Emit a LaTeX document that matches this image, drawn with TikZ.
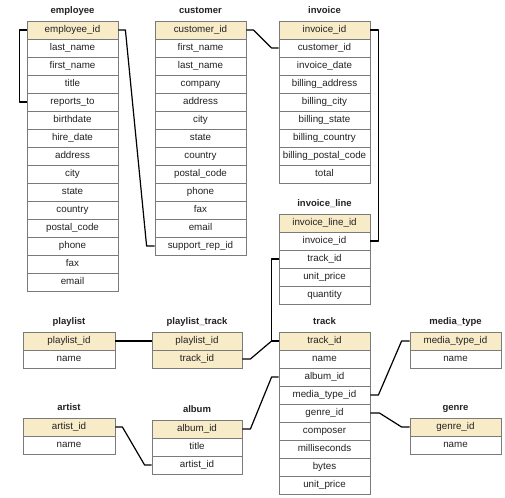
\documentclass[tikz,border=0pt]{standalone}
\usepackage{fontspec}
\setmainfont{Liberation Sans}
\usetikzlibrary{calc}
\definecolor{keyfill}{HTML}{F8EBC8}
\definecolor{bordergrey}{HTML}{7A7A7A}
\definecolor{fieldtext}{HTML}{222222}
\tikzset{
  fieldbox/.style={draw=bordergrey, line width=0.8pt, minimum height=18pt, inner sep=0pt,
    text height=7.2pt, text depth=2.2pt,
    font=\fontsize{9.8}{11}\selectfont, text=fieldtext},
  tabletitle/.style={font=\bfseries\fontsize{9.5}{11}\selectfont, inner sep=0pt, text=fieldtext,
    text height=7.2pt, text depth=2.2pt},
  link/.style={black, line width=1.2pt, line join=round},
}
% name, xleft, ytop, width, nkeys, title, fields
\newcommand\mktable[7]{%
  \node[tabletitle] (#1-t) at (#2+#4/2, #3-10) {#6};
  \foreach \f [count=\i] in {#7} {
    \ifnum\i>#5 \def\fc{white}\else\def\fc{keyfill}\fi
    \node[fieldbox, minimum width=#4pt, fill=\fc] (#1-\i) at (#2+#4/2, #3+18*\i-9) {\f};
  }
}
\begin{document}
\begin{tikzpicture}[x=1pt,y=-1pt]
\useasboundingbox (0,0) rectangle (505,497);
\mktable{emp}{27}{21}{91}{1}{employee}{employee\_id,last\_name,first\_name,title,reports\_to,birthdate,hire\_date,address,city,state,country,postal\_code,phone,fax,email}
\mktable{cus}{155}{21}{91}{1}{customer}{customer\_id,first\_name,last\_name,company,address,city,state,country,postal\_code,phone,fax,email,support\_rep\_id}
\mktable{inv}{279}{21}{91}{1}{invoice}{invoice\_id,customer\_id,invoice\_date,billing\_address,billing\_city,billing\_state,billing\_country,billing\_postal\_code,total}
\mktable{il}{279}{214}{91}{1}{invoice\_line}{invoice\_line\_id,invoice\_id,track\_id,unit\_price,quantity}
\mktable{pl}{23}{332}{92}{1}{playlist}{playlist\_id,name}
\mktable{pt}{152}{332}{90}{2}{playlist\_track}{playlist\_id,track\_id}
\mktable{art}{23}{418}{92}{1}{artist}{artist\_id,name}
\mktable{alb}{152}{420}{90}{1}{album}{album\_id,title,artist\_id}
\mktable{trk}{279}{332}{91}{1}{track}{track\_id,name,album\_id,media\_type\_id,genre\_id,composer,milliseconds,bytes,unit\_price}
\mktable{mt}{410}{332}{91}{1}{media\_type}{media\_type\_id,name}
\mktable{gen}{410}{418}{91}{1}{genre}{genre\_id,name}

\draw[link] (emp-1.west) -- ++(-7,0) |- (emp-5.west);
\draw[link] (emp-1.east) -- ++(7,0) -- ($(cus-13.west)+(-8,0)$) -- (cus-13.west);
\draw[link] (cus-1.east) -- ++(7,0) -- ($(inv-2.west)+(-7,0)$) -- (inv-2.west);
\draw[link] (inv-1.east) -- ++(8,0) |- (il-2.east);
\draw[link] (il-3.west) -- ++(-7,0) |- (trk-1.west);
\draw[link] (pt-2.east) -- ++(8,0) -- ($(trk-1.west)+(-7,0)$);
\draw[link] (pl-1.east) -- (pt-1.west);
\draw[link] (art-1.east) -- ++(7,0) -- ($(alb-3.west)+(-7,0)$) -- (alb-3.west);
\draw[link] (alb-1.east) -- ++(8,0) -- ($(trk-3.west)+(-7,0)$) -- (trk-3.west);
\draw[link] (trk-4.east) -- ++(8,0) -- ($(mt-1.west)+(-8,0)$) -- (mt-1.west);
\draw[link] (trk-5.east) -- ++(9,0) -- ($(gen-1.west)+(-8,0)$) -- (gen-1.west);
\end{tikzpicture}
\end{document}
